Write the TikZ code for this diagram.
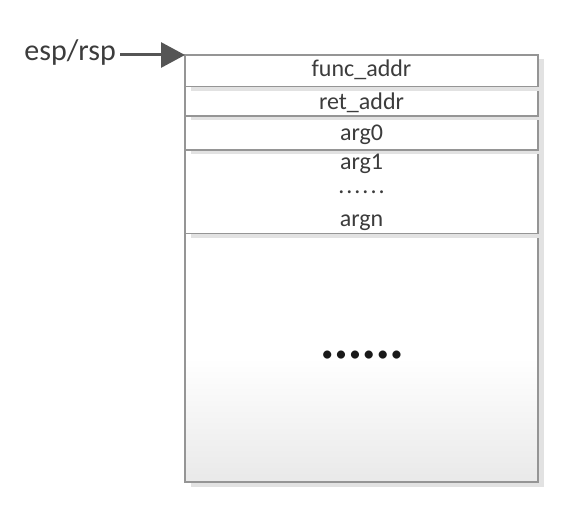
\documentclass[tikz,border=0pt]{standalone}
\usepackage{fontspec}
\setmainfont{Carlito}
\usetikzlibrary{arrows.meta,shadows}
\definecolor{edge}{HTML}{959595}
\definecolor{ink}{HTML}{3C3C3C}
\definecolor{shadowgray}{HTML}{E2E2E2}
\definecolor{arrowgray}{HTML}{555555}
\definecolor{bottomgray}{HTML}{E9E9E9}
\begin{document}
\begin{tikzpicture}[x=1pt,y=-1pt,
  cell/.style={draw=edge, line width=1.1pt, fill=white, minimum width=353pt,
    inner sep=0pt, outer sep=0pt, anchor=north west,
    general shadow={fill=shadowgray, shadow xshift=6pt, shadow yshift=-4.5pt}},
  lab/.style={anchor=base, inner sep=0pt, text=ink, font=\fontsize{24}{26}\selectfont},
  pointer/.style={arrowgray, line width=3pt, -{Triangle[length=24pt,width=25pt]}}
]
\useasboundingbox (0,0) rectangle (587,505);
\fill[white] (0,0) rectangle (587,505);
\node[cell, minimum height=248.7pt, fill=none, top color=white, bottom color=bottomgray,
  middle color=white] (rest) at (185,233.3) {};
\node[cell, minimum height=83.3pt] (a1) at (185,150) {};
\node[cell, minimum height=34pt] (a0) at (185,116) {};
\node[cell, minimum height=29.3pt] (r) at (185,86.7) {};
\node[cell, minimum height=31.7pt] (f) at (185,55) {};
\node[lab] (tf) at (361.5,76.7) {func\_addr};
\node[lab] (tr) at (361.5,110) {ret\_addr};
\node[lab] (t0) at (361.5,141) {arg0};
\node[lab] (t1) at (361.5,170) {arg1};
\node[lab] (td) at (361.5,194) {.\hspace{2pt}.\hspace{2pt}.\hspace{2pt}.\hspace{2pt}.\hspace{2pt}.};
\node[lab] (tn) at (361.5,226.7) {argn};
\node[inner sep=0pt, text=black!90, font=\fontsize{23}{25}\selectfont] (dots) at (362,356.7)
  {•\hspace{2.4pt}•\hspace{2.4pt}•\hspace{2.4pt}•\hspace{2.4pt}•\hspace{2.4pt}•};
\node[anchor=base east, text=ink, font=\fontsize{30}{32}\selectfont, inner sep=0pt] (esp) at (116,61) {esp/rsp};
\draw[pointer, shorten <=4pt] (esp.east |- f.north west) -- (f.north west);
\end{tikzpicture}
\end{document}
